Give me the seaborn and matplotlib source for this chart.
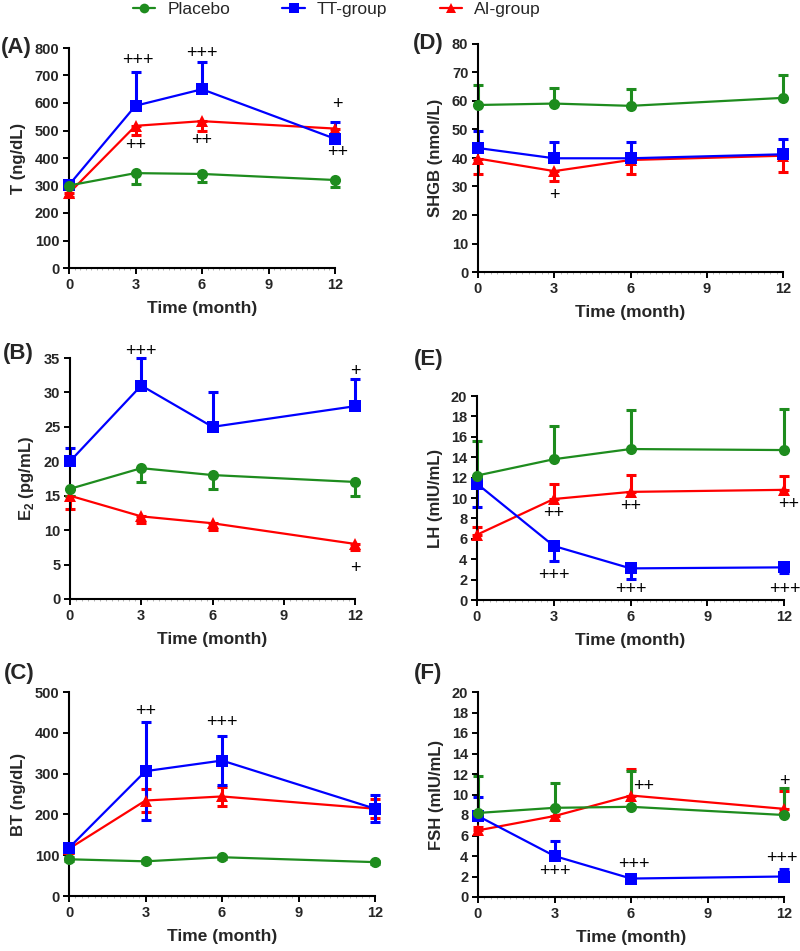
import numpy as np
import pandas as pd
import seaborn as sns
import matplotlib.pyplot as plt
from matplotlib.lines import Line2D
from matplotlib.ticker import MultipleLocator

months = [0, 3, 6, 12]
groups = ['Placebo', 'TT-group', 'AI-group']

# (A) T (ng/dL)
t_placebo = [300, 345, 342, 320]
t_placebo_err = [8, 39, 31, 27]
t_tt = [302, 590, 650, 470]
t_tt_err = [8, 123, 99, 62]
t_ai = [272, 517, 534, 507]
t_ai_err = [15, 35, 34, 40]

# (B) E2 (pg/mL)
e2_placebo = [16, 19, 18, 17]
e2_placebo_err = [1, 2, 2, 2]
e2_tt = [20, 31, 25, 28]
e2_tt_err = [2, 4, 5, 4]
e2_ai = [15, 12, 11, 8]
e2_ai_err = [2, 1, 1, 0.9]

# (C) BT (ng/dL)
bt_placebo = [90, 85, 95, 83]
bt_placebo_err = [5, 4, 4, 4]
bt_tt = [118, 306, 332, 214]
bt_tt_err = [10, 120, 60, 33]
bt_ai = [116, 234, 244, 214]
bt_ai_err = [8, 28, 24, 24]

# (D) SHGB (nmol/L)
shgb_placebo = [58.6, 59.1, 58.3, 61.1]
shgb_placebo_err = [7, 5.5, 6, 8]
shgb_tt = [43.5, 39.9, 39.9, 41.3]
shgb_tt_err = [6, 5.8, 5.8, 5.5]
shgb_ai = [39.8, 35.4, 39.3, 40.8]
shgb_ai_err = [5.3, 3.6, 5, 5.8]

# (E) LH (mIU/mL)
lh_placebo = [12.2, 13.8, 14.8, 14.7]
lh_placebo_err = [3.4, 3.3, 3.8, 4.0]
lh_tt = [11.4, 5.3, 3.1, 3.2]
lh_tt_err = [2.3, 1.5, 1.0, 0.6]
lh_ai = [6.4, 9.9, 10.6, 10.8]
lh_ai_err = [0.8, 1.5, 1.7, 1.4]

# (F) FSH (mIU/mL)
fsh_placebo = [8.2, 8.7, 8.8, 8.0]
fsh_placebo_err = [3.6, 2.4, 3.5, 2.65]
fsh_tt = [7.9, 4.0, 1.8, 2.0]
fsh_tt_err = [1.9, 1.5, 0.3, 0.7]
fsh_ai = [6.5, 7.9, 9.9, 8.6]
fsh_ai_err = [0.3, 0.9, 2.6, 1.75]

# significance marks (month, value, text)
t_marks = [(3.1, 755, '+++'), (6, 780, '+++'), (12.1, 595, '+'),
           (3, 445, '++'), (6, 462, '++'), (12.1, 420, '++')]
e2_marks = [(3, 35.9, '+++'), (12, 33, '+'), (12, 4.5, '+')]
bt_marks = [(3, 453, '++'), (6, 425, '+++')]
shgb_marks = [(3, 27, '+')]
lh_marks = [(3, 8.5, '++'), (6, 9.2, '++'), (12.2, 9.4, '++'),
            (3, 2.45, '+++'), (6, 1.05, '+++'), (12.05, 1.05, '+++')]
fsh_marks = [(3, 2.5, '+++'), (6.1, 3.2, '+++'), (6.5, 10.8, '++'),
             (12, 11.3, '+'), (11.9, 3.75, '+++')]

colors = {'Placebo': '#1e8c1e', 'TT-group': '#0000ff', 'AI-group': '#ff0000'}
markers = {'Placebo': 'o', 'TT-group': 's', 'AI-group': '^'}

sns.set_theme(style='ticks')
plt.rcParams['font.family'] = ['Liberation Sans', 'DejaVu Sans']
plt.rcParams['mathtext.fontset'] = 'custom'
plt.rcParams['mathtext.rm'] = 'Liberation Sans:bold'
plt.rcParams['mathtext.bf'] = 'Liberation Sans:bold'

panels = [
    # label, ylabel, data, errs, err direction, yticks, marks, box(l, r, t, b), label pos
    ('(A)', 'T (ng/dL)', [t_placebo, t_tt, t_ai], [t_placebo_err, t_tt_err, t_ai_err],
     ['down', 'up', 'down'], np.arange(0, 801, 100), t_marks, (69, 335, 48, 268), (1, 48)),
    ('(B)', 'E$_{2}$ (pg/mL)', [e2_placebo, e2_tt, e2_ai], [e2_placebo_err, e2_tt_err, e2_ai_err],
     ['down', 'up', 'down'], np.arange(0, 36, 5), e2_marks, (70, 355, 358, 599), (3, 353)),
    ('(C)', 'BT (ng/dL)', [bt_placebo, bt_tt, bt_ai], [bt_placebo_err, bt_tt_err, bt_ai_err],
     ['both', 'both', 'both'], np.arange(0, 501, 100), bt_marks, (69, 375, 692, 896), (4, 673)),
    ('(D)', 'SHGB (nmol/L)', [shgb_placebo, shgb_tt, shgb_ai], [shgb_placebo_err, shgb_tt_err, shgb_ai_err],
     ['up', 'up', 'down'], np.arange(0, 81, 10), shgb_marks, (478, 783, 44, 272), (413, 43)),
    ('(E)', 'LH (mIU/mL)', [lh_placebo, lh_tt, lh_ai], [lh_placebo_err, lh_tt_err, lh_ai_err],
     ['up', 'down', 'up'], np.arange(0, 21, 2), lh_marks, (477, 784, 396, 600), (414, 360)),
    ('(F)', 'FSH (mIU/mL)', [fsh_placebo, fsh_tt, fsh_ai], [fsh_placebo_err, fsh_tt_err, fsh_ai_err],
     ['up', 'up', 'up'], np.arange(0, 21, 2), fsh_marks, (478, 784, 692, 897), (414, 673)),
]

W, H = 800, 951
fig = plt.figure(figsize=(W / 100, H / 100), dpi=100)

for label, ylabel, data, errs, dirs, yticks, marks, box, lpos in panels:
    l, r, t, b = box
    ax = fig.add_axes([l / W, 1 - b / H, (r - l) / W, (b - t) / H])

    rows = []
    for g, vals in zip(groups, data):
        for m, v in zip(months, vals):
            rows.append({'month': m, 'value': v, 'group': g})
    df = pd.DataFrame(rows)

    # error bars first (drawn AI, TT, Placebo so green sits on top)
    for g, vals, e, d in list(zip(groups, data, errs, dirs))[::-1]:
        e = np.array(e, dtype=float)
        lo = e if d in ('down', 'both') else np.zeros_like(e)
        hi = e if d in ('up', 'both') else np.zeros_like(e)
        eb = ax.errorbar(months, vals, yerr=[lo, hi], fmt='none', ecolor=colors[g],
                         elinewidth=2.2, capsize=3.5, capthick=2.2, zorder=2)
        for art in eb.get_children():
            art.set_clip_on(False)

    sns.lineplot(data=df, x='month', y='value', hue='group', style='group',
                 hue_order=['AI-group', 'TT-group', 'Placebo'],
                 style_order=['AI-group', 'TT-group', 'Placebo'],
                 palette=colors, markers=markers, dashes=False, markersize=8,
                 markeredgewidth=0, linewidth=1.6, legend=False, ax=ax,
                 clip_on=False, zorder=3)

    for x, y, s in marks:
        ax.text(x, y, s, ha='center', va='center', fontsize=13, color='black')

    ax.set_xlim(0, 12)
    ax.set_ylim(yticks[0], yticks[-1])
    ax.set_xticks([0, 3, 6, 9, 12])
    ax.set_xticklabels(['0', '3', '6', '9', '12'], fontweight='bold', fontsize=10.5)
    ax.set_yticks(yticks)
    ax.set_yticklabels([str(v) for v in yticks], fontweight='bold', fontsize=10.5)
    ax.xaxis.set_minor_locator(MultipleLocator(0.25))
    ax.tick_params(which='major', direction='out', length=4, width=1.4, color='black', pad=3)
    ax.tick_params(axis='x', which='minor', direction='out', length=1.5, width=0.5, color='#999999')
    ax.set_xlabel('Time (month)', fontweight='bold', fontsize=12.5, labelpad=7)
    ax.set_ylabel(ylabel, fontweight='bold', fontsize=12, labelpad=6)
    sns.despine(ax=ax)
    for sp in ['left', 'bottom']:
        ax.spines[sp].set_linewidth(1.5)
        ax.spines[sp].set_color('black')

    fig.text(lpos[0] / W, 1 - lpos[1] / H, label, ha='left', va='center',
             fontsize=16, fontweight='bold')

handles = [Line2D([], [], color=colors[g], marker=markers[g], markersize=7,
                  markeredgewidth=0, linewidth=1.6) for g in groups]
fig.legend(handles, groups, loc='center', bbox_to_anchor=(0.421, 1 - 9 / H),
           ncol=3, frameon=False, fontsize=12.5, handlelength=1.3,
           handletextpad=0.7, columnspacing=3.0, borderaxespad=0)

fig.savefig('out.png', dpi=100)
